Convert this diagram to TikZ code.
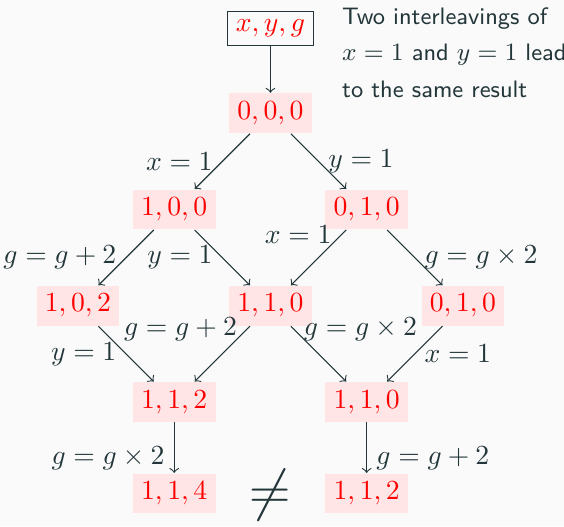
\documentclass[tikz,border=0pt]{standalone}
\usepackage{amsmath,amssymb}
\usepackage{fontspec}
\usepackage{xcolor}
\definecolor{mDark}{HTML}{23373B}
\definecolor{mBack}{HTML}{FAFAFA}
\tikzset{
  >=to,
  shorten >=0pt,
}

\begin{document}
\begin{tikzpicture}[
  x=34.8pt, y=34.8pt,
  text=mDark,
  cell/.style={fill=red!10, text=red, inner sep=3pt},
  start/.style={draw=mDark, text=red, inner sep=3pt},
  note/.style={font=\sffamily\fontsize{8.6}{13.2}\selectfont, align=left, inner sep=0pt}
]
  \useasboundingbox[fill=mBack] (-2.81,1.177) rectangle (3.05,-4.29);

  \node[start] (xyg) at (0,0.88) {$x,y,g$};
  \node[cell] (s000) at (0,0) {$0,0,0$};
  \node[cell] (s100) at (-1,-1) {$1,0,0$};
  \node[cell] (s010) at (1,-1) {$0,1,0$};
  \node[cell] (s102) at (-2,-2) {$1,0,2$};
  \node[cell] (s110) at (0,-2) {$1,1,0$};
  \node[cell] (s010b) at (2,-2) {$0,1,0$};
  \node[cell] (s112) at (-1,-3) {$1,1,2$};
  \node[cell] (s110b) at (1,-3) {$1,1,0$};
  \node[cell] (s114) at (-1,-3.95) {$1,1,4$};
  \node[cell] (s112b) at (1,-3.95) {$1,1,2$};
  \node[font=\huge] (neq) at (0,-3.97) {$\neq$};

  \node[note, anchor=north west] (note) at (0.74,1.106)
    {Two interleavings of\\ $x=1$ and $y=1$ lead\\ to the same result};

  \path[->, draw=mDark]
    (xyg) edge (s000)
    (s000) edge node[left] {$x=1$} (s100)
    (s000) edge node[right] {$y=1$} (s010)
    (s100) edge node[left] {$g=g+2$} (s102)
    (s100) edge node[left] {$y=1$} (s110)
    (s010) edge node[left, pos=0.09] {$x=1$} (s110)
    (s010) edge node[right] {$g=g\times 2$} (s010b)
    (s102) edge node[left] {$y=1$} (s112)
    (s110) edge node[left, pos=0.06] {$g=g+2$} (s112)
    (s110) edge node[right, pos=0.06] {$g=g\times 2$} (s110b)
    (s010b) edge node[right] {$x=1$} (s110b)
    (s112) edge node[left, pos=0.7] {$g=g\times 2$} (s114)
    (s110b) edge node[right, pos=0.7] {$g=g+2$} (s112b);
\end{tikzpicture}
\end{document}
